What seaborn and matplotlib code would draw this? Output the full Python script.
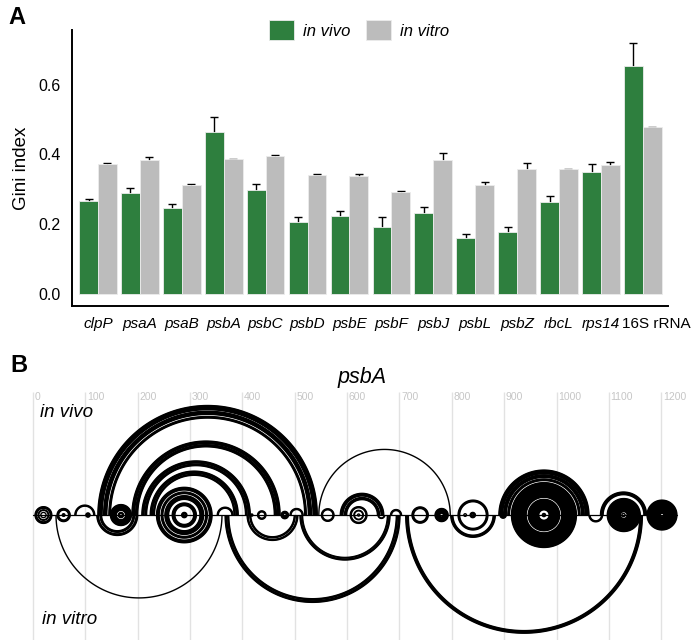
import numpy as np
import pandas as pd
import matplotlib
matplotlib.use('Agg')
import matplotlib.pyplot as plt
import seaborn as sns
from matplotlib.collections import LineCollection
from matplotlib.transforms import ScaledTranslation

# ---- panel A: Gini index per transcript ----
genes = ['clpP', 'psaA', 'psaB', 'psbA', 'psbC', 'psbD', 'psbE', 'psbF',
         'psbJ', 'psbL', 'psbZ', 'rbcL', 'rps14', '16S rRNA']
gini_vivo = [0.266, 0.289, 0.246, 0.465, 0.299, 0.207, 0.225, 0.191,
             0.233, 0.160, 0.179, 0.264, 0.350, 0.654]
se_vivo = [0.007, 0.016, 0.012, 0.042, 0.017, 0.014, 0.014, 0.029,
           0.015, 0.012, 0.014, 0.018, 0.022, 0.064]
gini_vitro = [0.372, 0.383, 0.311, 0.386, 0.395, 0.342, 0.338, 0.292,
              0.383, 0.311, 0.357, 0.357, 0.370, 0.477]
se_vitro = [0.002, 0.009, 0.004, 0.002, 0.002, 0.001, 0.007, 0.002,
            0.021, 0.010, 0.017, 0.002, 0.008, 0.001]
conditions = ['in vivo', 'in vitro']
colors = ['#2e7f3e', '#bcbcbc']

# ---- panel B: psbA arc diagram, helices as (start, end, length) in nt ----
# pairs found in both conditions (drawn above and below)
both_start = [4, 10, 15, 46, 56, 101, 148, 163,
              236, 245, 252, 266, 284,
              416, 429, 474, 551, 606, 613, 620, 724, 768, 812, 835, 823,
              914, 946, 973, 1097, 1125, 1173]
both_end = [36, 30, 25, 71, 61, 109, 188, 173,
            342, 333, 326, 312, 294,
            420, 445, 488, 575, 638, 631, 624, 755, 793, 869, 845, 828,
            1038, 1006, 979, 1160, 1131, 1230]
both_len = [4, 2, 1, 4, 2, 4, 12, 3,
            6, 4, 8, 6, 4,
            2, 3, 5, 3, 3, 2, 1, 4, 10, 4, 4, 1,
            29, 21, 2, 26, 1, 26]
# in vivo only (above the line)
vivo_start = [80, 124, 135, 145, 189, 196, 208, 214, 224, 230, 352, 491, 546,
              587, 595, 683, 890, 899, 907, 1084]
vivo_end = [118, 543, 532, 522, 472, 465, 415, 409, 392, 386, 382, 516, 797,
            670, 662, 704, 1062, 1053, 1045, 1172]
vivo_len = [3, 9, 7, 4, 6, 5, 5, 4, 5, 3, 3, 3, 1,
            6, 5, 3, 8, 6, 4, 6]
# in vitro only (below the line)
vitro_start = [44, 122, 128, 367, 372, 409, 414, 510, 514, 659, 712, 798, 892, 1062]
vitro_end = [361, 200, 194, 701, 696, 506, 501, 682, 678, 672, 1164, 883, 904, 1088]
vitro_len = [1, 4, 4, 4, 3, 3, 3, 3, 2, 2, 6, 5, 4, 3]
nt_ticks = list(range(0, 1300, 100))

sns.set_style('white')
plt.rcParams['font.family'] = ['Liberation Sans', 'DejaVu Sans']
plt.rcParams.update({'text.color': 'black', 'axes.labelcolor': 'black',
                     'xtick.color': 'black', 'ytick.color': 'black',
                     'axes.edgecolor': 'black'})

fig = plt.figure(figsize=(7, 6.4), dpi=100)

# ---------------- A ----------------
ax = fig.add_axes([72 / 700, 1 - 306 / 640, 596 / 700, 276 / 640])
df = pd.DataFrame({
    'gene': genes * 2,
    'gini': gini_vivo + gini_vitro,
    'se': se_vivo + se_vitro,
    'condition': ['in vivo'] * len(genes) + ['in vitro'] * len(genes),
})
sns.barplot(data=df, x='gene', y='gini', hue='condition', hue_order=conditions,
            palette=colors, width=0.9, gap=0, errorbar=None, saturation=1,
            edgecolor='#ececec', linewidth=0.6, ax=ax)

for cont, cond in zip(ax.containers, conditions):
    sub = df[df.condition == cond]
    xs = [p.get_x() + p.get_width() / 2 for p in cont]
    ax.errorbar(xs, sub.gini, yerr=sub.se, fmt='none', ecolor='black',
                elinewidth=1.0, capsize=3, capthick=1.0, zorder=0.5)

ax.set_xlim(-0.62, 13.6)
ax.set_ylim(-0.034, 0.756)
ax.set_yticks([0.0, 0.2, 0.4, 0.6])
ax.set_yticklabels(['0.0', '0.2', '0.4', '0.6'])
ax.set_xlabel('')
ax.set_ylabel('Gini index', fontsize=13.5, labelpad=6)
sns.despine(ax=ax)
for s in ['left', 'bottom']:
    ax.spines[s].set_linewidth(1.4)
ax.tick_params(axis='both', direction='out', length=5, width=1.2, color='black')
ax.tick_params(axis='y', labelsize=11.5, pad=3)
ax.tick_params(axis='x', labelsize=11, pad=3)
for lab in ax.get_xticklabels():
    if lab.get_text() != '16S rRNA':
        lab.set_fontstyle('italic')
    else:
        lab.set_transform(lab.get_transform() + ScaledTranslation(13 / 100, 0, fig.dpi_scale_trans))

handles, labels = ax.get_legend_handles_labels()
ax.legend(handles, labels, loc='center', bbox_to_anchor=(359 / 700, 1 - 30 / 640),
          bbox_transform=fig.transFigure, ncol=2, frameon=False,
          prop={'size': 12, 'style': 'italic'}, handlelength=1.5,
          handleheight=1.5, handletextpad=0.55, columnspacing=0.9)

fig.text(8 / 700, 1 - 17 / 640, 'A', fontsize=17, fontweight='bold', va='center')
fig.text(10 / 700, 1 - 365 / 640, 'B', fontsize=17, fontweight='bold', va='center')

# ---------------- B ----------------
bx = fig.add_axes([20 / 700, 0, 670 / 700, 252 / 640])
bx.set_xlim(-24.8, 1255)
bx.set_ylim(-239, 243)
bx.axis('off')

bx.vlines(nt_ticks, -239, 235, color='#e2e2e2', lw=1.0, zorder=0)
for t in nt_ticks:
    bx.text(t + 3, 225, str(t), fontsize=7.5, color='#c6c6c6', va='center', ha='left')


def helix_arcs(starts, ends, lens, side):
    segs = []
    for i, j, n in zip(starts, ends, lens):
        for k in range(n):
            a, b = i + k, j - k
            if b <= a:
                break
            c, r = (a + b) / 2, (b - a) / 2
            t = np.linspace(0, np.pi, max(24, int(r * 1.5)))
            segs.append(np.column_stack([c + r * np.cos(t), side * r * np.sin(t)]))
    return segs


segs = (helix_arcs(both_start, both_end, both_len, 1)
        + helix_arcs(both_start, both_end, both_len, -1)
        + helix_arcs(vivo_start, vivo_end, vivo_len, 1)
        + helix_arcs(vitro_start, vitro_end, vitro_len, -1))
bx.add_collection(LineCollection(segs, colors='black', linewidths=1.0, zorder=2))
bx.plot([0, 1230], [0, 0], color='black', lw=0.9, zorder=1)

bx.text(13, 197, 'in vivo', fontsize=13.5, style='italic', va='center', ha='left')
bx.text(17, -200, 'in vitro', fontsize=13.5, style='italic', va='center', ha='left')
fig.text(362 / 700, 1 - 378 / 640, 'psbA', fontsize=15.5, style='italic',
         ha='center', va='center')

fig.savefig('out.png', dpi=100)
